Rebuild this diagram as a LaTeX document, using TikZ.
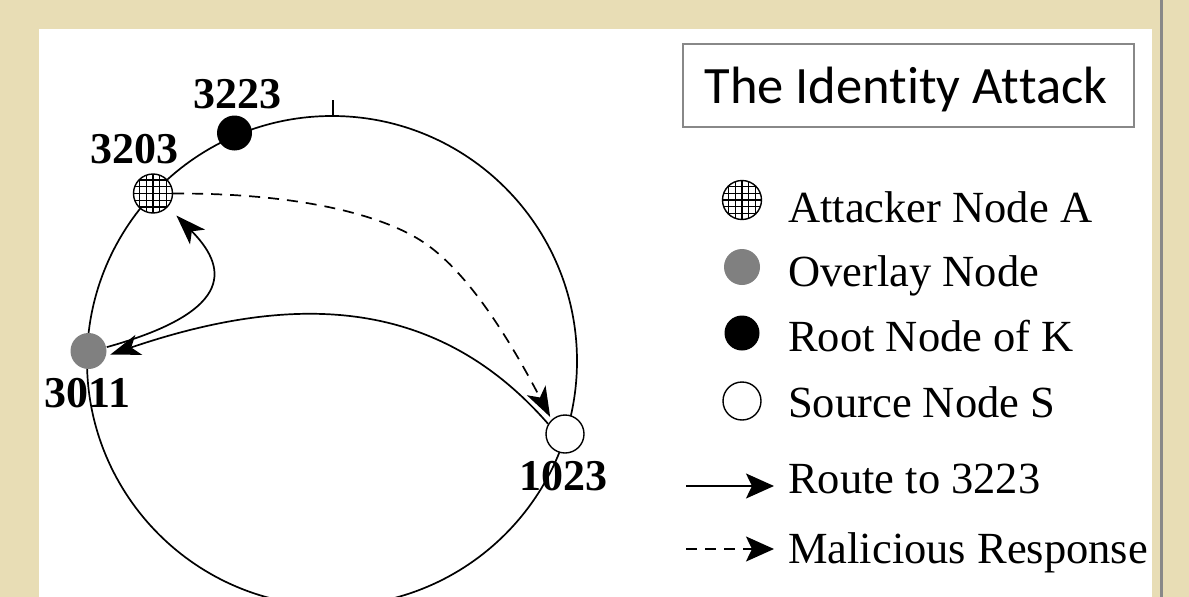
\documentclass[tikz,border=0pt]{standalone}
\usepackage{fontspec}
\setmainfont{Liberation Serif}
\newfontfamily\titlefont[Ligatures={NoCommon,NoRare,NoContextual}]{Carlito}
\usetikzlibrary{arrows.meta}
\definecolor{paper}{RGB}{232,221,181}
\definecolor{overlaygray}{RGB}{128,128,128}
\definecolor{framegray}{RGB}{136,136,136}

\begin{document}
\begin{tikzpicture}[x=1pt,y=-1pt,
  ring/.style={line width=1.7pt},
  peer/.style={circle, minimum size=37pt, inner sep=0pt, line width=1.4pt},
  rootpeer/.style={peer, fill=black, minimum size=35pt},
  overlaypeer/.style={peer, fill=overlaygray, minimum size=36pt},
  sourcepeer/.style={peer, draw=black, fill=white, minimum size=38pt},
  attacker/.style={peer, draw=black, fill=white, minimum size=39pt,
    path picture={
      \foreach \d in {-13.4,-6.7,0,6.7,13.4}{
        \draw[line width=1.3pt]
          ([shift={(\d,-20)}]path picture bounding box.center) --
          ([shift={(\d,20)}]path picture bounding box.center);
        \draw[line width=1.3pt]
          ([shift={(-20,\d)}]path picture bounding box.center) --
          ([shift={(20,\d)}]path picture bounding box.center);
      }}},
  num/.style={font=\fontsize{44}{50}\selectfont\bfseries, inner sep=0pt, anchor=base},
  lgtext/.style={font=\fontsize{44.5}{50}\selectfont, inner sep=0pt, anchor=base west},
  tip/.style={-{Stealth[length=30pt, width=21pt, inset=8pt]}},
  route/.style={line width=1.7pt, tip},
  response/.style={line width=1.7pt, dash pattern=on 11pt off 8pt, tip},
  lgroute/.style={line width=2pt, -{Stealth[length=28pt, width=25pt, inset=6pt]}},
  lgresponse/.style={lgroute, dash pattern=on 11pt off 8pt},
  titlebox/.style={draw=framegray, line width=2pt, minimum width=451pt,
    minimum height=83pt, inner sep=0pt}
]
\useasboundingbox (0,0) rectangle (1189,597);

% page and panel
\fill[paper] (0,0) rectangle (1189,597);
\fill[white] (39,29) rectangle (1152,597);
\draw[framegray, line width=3pt] (1161.5,0) -- (1161.5,597);

% identifier ring with its zero mark
\draw[ring] (332,361) circle[radius=245];
\draw[ring] (333,100) -- (333,116);

% peers on the ring
\node[rootpeer] (root) at (234.5,133) {};
\node[attacker] (atk) at (153,193.5) {};
\node[overlaypeer] (ovl) at (88.5,351) {};
\node[sourcepeer] (src) at (565,434) {};

\node[num] (lroot) at (237,108) {3223};
\node[num] (latk) at (134.5,163) {3203};
\node[num] (lovl) at (87.5,407) {3011};
\node[num] (lsrc) at (563.5,490) {1023};

% lookup route and forged reply
\draw[route, shorten >=12pt] (ovl.12) .. controls (240,310) and (225,265) .. (atk.-42);
\draw[route, shorten >=4pt] (src.149) .. controls (440,300) and (300,290) .. (ovl.-15);
\coordinate (bend) at (420,240);
\draw[response, shorten >=3pt] (atk.0) .. controls (300,193) and (380,215) .. (bend)
  .. controls (470,271) and (515,350) .. (src.133);

% title
\node[titlebox] (tbox) at (908.5,85.5) {};
\node[font=\titlefont\fontsize{52.5}{60}\selectfont, inner sep=0pt, anchor=base]
  (title) at (906,103) {The Ident\kern0pt ity At\kern0pt tack};

% legend
\node[attacker] (kA) at (742,200) {};
\node[overlaypeer] (kO) at (742,267) {};
\node[rootpeer] (kK) at (742,333) {};
\node[sourcepeer] (kS) at (742,401) {};
\node[lgtext] (tA) at (788,222) {Attacker Node A};
\node[lgtext] (tO) at (788,286) {Overlay Node};
\node[lgtext] (tK) at (788,351) {Root Node of K};
\node[lgtext] (tS) at (788,417) {Source Node S};

\coordinate (r0) at (686,486);
\coordinate (r1) at (774,486);
\coordinate (m0) at (686,549);
\coordinate (m1) at (774,549);
\draw[lgroute] (r0) -- (r1);
\draw[lgresponse] (m0) -- (m1);
\node[lgtext] (tR) at (788,493) {Route to 3223};
\node[lgtext] (tM) at (788,563) {Malicious Response};
\end{tikzpicture}
\end{document}
